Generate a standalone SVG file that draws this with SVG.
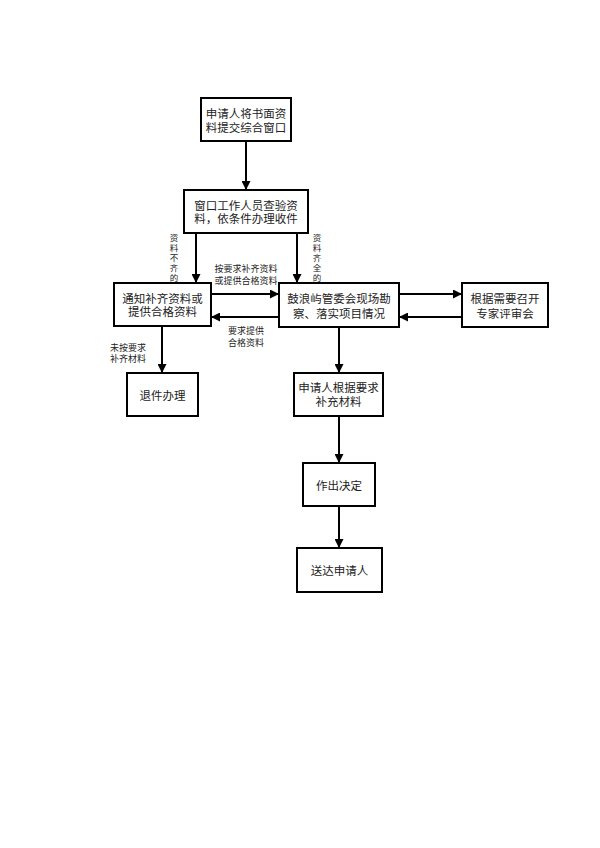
<svg xmlns="http://www.w3.org/2000/svg" width="600" height="848" viewBox="0 0 600 848">
<defs>
<style>
.box{fill:#fff;stroke:#000;stroke-width:2}
.t{font-family:"Noto Sans CJK SC","Liberation Sans",sans-serif;font-size:11.5px;fill:#222;text-anchor:middle;dominant-baseline:central}
.s{font-family:"Noto Sans CJK SC","Liberation Sans",sans-serif;font-size:9px;fill:#222;text-anchor:middle;dominant-baseline:central}
.v{font-family:"Noto Sans CJK SC","Liberation Sans",sans-serif;font-size:8.5px;fill:#222;writing-mode:tb;letter-spacing:1.3px}
.c{stroke:#000;stroke-width:2;fill:none;marker-end:url(#ah)}
</style>
<marker id="ah" viewBox="0 0 10 10" refX="10" refY="5" markerWidth="5" markerHeight="4.5" markerUnits="strokeWidth" orient="auto">
<path d="M0,0 L10,5 L0,10 Z" fill="#000"/>
</marker>
</defs>
<rect width="600" height="848" fill="#fff"/>
<g id="connectors">
<line class="c" x1="246" y1="141" x2="246" y2="190"/>
<line class="c" x1="196" y1="233" x2="196" y2="283"/>
<line class="c" x1="297" y1="233" x2="297" y2="283"/>
<line class="c" x1="211" y1="294" x2="279" y2="294"/>
<line class="c" x1="279" y1="317" x2="211" y2="317"/>
<line class="c" x1="399" y1="294" x2="462" y2="294"/>
<line class="c" x1="462" y1="317" x2="399" y2="317"/>
<line class="c" x1="162" y1="326" x2="162" y2="373"/>
<line class="c" x1="339" y1="327" x2="339" y2="373"/>
<line class="c" x1="339" y1="416" x2="339" y2="463"/>
<line class="c" x1="339" y1="506" x2="339" y2="548"/>
</g>
<g id="labels">
<text class="v" x="174" y="234">资料不齐的</text>
<text class="v" x="317" y="234">资料齐全的</text>
<text class="s" x="246"><tspan x="246" y="268">按要求补齐资料</tspan><tspan x="246" y="280">或提供合格资料</tspan></text>
<text class="s" x="246"><tspan x="246" y="330">要求提供</tspan><tspan x="246" y="342">合格资料</tspan></text>
<text class="s" x="128"><tspan x="128" y="347">未按要求</tspan><tspan x="128" y="358">补齐材料</tspan></text>
</g>
<g id="n1"><rect class="box" x="201" y="98" width="90" height="43"/><text class="t"><tspan x="246" y="112.5">申请人将书面资</tspan><tspan x="246" y="126.5">料提交综合窗口</tspan></text></g>
<g id="n2"><rect class="box" x="184" y="190" width="124" height="43"/><text class="t"><tspan x="246" y="205">窗口工作人员查验资</tspan><tspan x="246" y="218">料，依条件办理收件</tspan></text></g>
<g id="n3"><rect class="box" x="114" y="283" width="97" height="43"/><text class="t"><tspan x="162.5" y="297.5">通知补齐资料或</tspan><tspan x="162.5" y="311">提供合格资料</tspan></text></g>
<g id="n4"><rect class="box" x="279" y="283" width="120" height="44"/><text class="t"><tspan x="339" y="298">鼓浪屿管委会现场勘</tspan><tspan x="339" y="312.5">察、落实项目情况</tspan></text></g>
<g id="n5"><rect class="box" x="462" y="283" width="86" height="44"/><text class="t"><tspan x="505" y="298">根据需要召开</tspan><tspan x="505" y="312.5">专家评审会</tspan></text></g>
<g id="n6"><rect class="box" x="294" y="373" width="89" height="43"/><text class="t"><tspan x="338.5" y="387">申请人根据要求</tspan><tspan x="338.5" y="401">补充材料</tspan></text></g>
<g id="n7"><rect class="box" x="127" y="373" width="71" height="43"/><text class="t" x="162.5" y="394.5">退件办理</text></g>
<g id="n8"><rect class="box" x="303" y="463" width="72" height="43"/><text class="t" x="339" y="484.5">作出决定</text></g>
<g id="n9"><rect class="box" x="297" y="548" width="85" height="44"/><text class="t" x="339.5" y="570">送达申请人</text></g>
</svg>
